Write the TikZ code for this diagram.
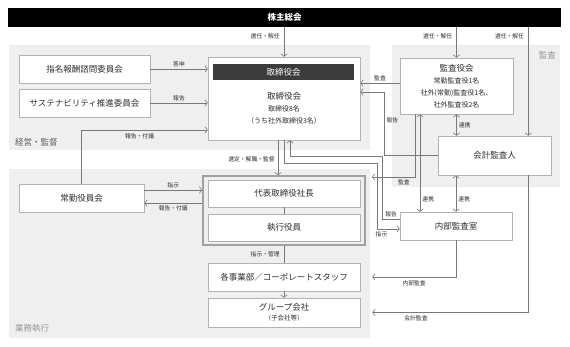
\documentclass[tikz,border=0pt]{standalone}
\usepackage{fontspec}
\setmainfont{Noto Sans CJK JP}
\usetikzlibrary{arrows.meta,calc}
\definecolor{regiongray}{RGB}{239,239,239}
\definecolor{boxline}{RGB}{178,178,178}
\definecolor{framecol}{RGB}{160,160,160}
\definecolor{connline}{RGB}{120,120,120}
\definecolor{txt}{RGB}{45,45,45}
\definecolor{hdr}{RGB}{60,60,60}
\definecolor{regtxtA}{RGB}{95,95,95}
\definecolor{regtxtB}{RGB}{150,150,150}
\newcommand\fmain{\fontsize{8.5pt}{10pt}\selectfont}
\newcommand\fsub{\fontsize{7pt}{12pt}\selectfont}
\newcommand\fsmall{\fontsize{6.5pt}{12pt}\selectfont}
\newcommand\flab{\fontsize{5.8pt}{7pt}\selectfont}
\begin{document}
\begin{tikzpicture}[x=1pt,y=-1pt,
  region/.style={fill=regiongray, draw=none, inner sep=0pt},
  regionlabel/.style={font=\fmain, inner sep=0pt},
  box/.style={draw=boxline, fill=white, line width=0.6pt, text=txt, font=\fmain, align=center, inner sep=0pt},
  lab/.style={font=\flab, text=txt, inner sep=1pt},
  conn/.style={draw=connline, line width=0.6pt},
  arr/.style={conn, -{Straight Barb[length=2.5pt,width=6.5pt]}},
  arrb/.style={conn, {Straight Barb[length=2.5pt,width=6.5pt]}-{Straight Barb[length=2.5pt,width=6.5pt]}}
]
\useasboundingbox (0,0) rectangle (570,347);
\fill[white] (0,0) rectangle (570,347);

% regions
\node[region, minimum width=361pt, minimum height=105pt] (regL) at (189.5,97.5) {};
\node[region, minimum width=168pt, minimum height=142pt] (regR) at (476,116) {};
\node[region, minimum width=361pt, minimum height=169pt] (regB) at (189.5,253.5) {};
\node[regionlabel, text=regtxtA, anchor=west] (labL) at (15,142) {経営・監督};
\node[regionlabel, text=regtxtB, anchor=west] (labB) at (15,328) {業務執行};
\node[regionlabel, text=regtxtB, anchor=east] (labR) at (556,55) {監査};

% top bar
\node[fill=black, text=white, font=\fmain\bfseries, minimum width=553pt, minimum height=19pt, inner sep=0pt] (top) at (284.5,17.5) {株主総会};

% left committees
\node[box, minimum width=131pt, minimum height=28pt] (nom) at (84.5,69) {指名報酬諮問委員会};
\node[box, minimum width=131pt, minimum height=28pt] (sus) at (84.5,103) {サステナビリティ推進委員会};
\node[box, minimum width=125pt, minimum height=28pt] (jokin) at (81.5,198) {常勤役員会};

% board
\node[box, minimum width=152pt, minimum height=83pt] (board) at (284,98.5) {};
\node[fill=hdr, text=white, font=\fmain, minimum width=141pt, minimum height=16pt, inner sep=0pt] (boardhdr) at (283.5,72) {取締役会};
\node[font=\fsub, text=txt, align=center, inner sep=0pt] (boardtxt) at (284,108) {{\fmain 取締役会}\\ 取締役8名\\ （うち社外取締役3名）};

% execution
\node[draw=framecol, line width=1.5pt, minimum width=162pt, minimum height=69pt, inner sep=0pt] (execframe) at (284,210.5) {};
\node[box, minimum width=152pt, minimum height=27pt] (ceo) at (284,193.5) {代表取締役社長};
\node[box, minimum width=152pt, minimum height=27pt] (officers) at (284,227.5) {執行役員};
\node[box, minimum width=152pt, minimum height=28pt] (div) at (284,277) {各事業部／コーポレートスタッフ};
\node[box, minimum width=152pt, minimum height=29pt] (grp) at (284,312.5) {グループ会社\\{\fsmall （子会社等）}};

% audit
\node[box, font=\fsub, minimum width=113pt, minimum height=56pt] (kansayaku) at (456.5,86) {{\fmain 監査役会}\\ 常勤監査役1名\\ 社外(常勤)監査役1名、\\ 社外監査役2名};
\node[box, minimum width=113pt, minimum height=39pt] (auditor) at (494.5,155.5) {会計監査人};
\node[box, minimum width=112pt, minimum height=28pt] (internal) at (456,226) {内部監査室};

% shareholders' meeting
\draw[arr] (board.north |- top.south) -- node[lab, pos=0.3, left=3pt]{選任・解任} (board.north);
\draw[arr] (kansayaku.north |- top.south) -- node[lab, pos=0.3, left=3pt]{選任・解任} (kansayaku.north);
\coordinate (audtop) at ($(auditor.north east)+(-23,0)$);
\draw[arr] (audtop |- top.south) -- node[lab, pos=0.083, left=3pt]{選任・解任} (audtop);

% committees to board
\draw[arr] (nom.east) -- node[lab, above=1pt]{答申} (nom.east -| board.west);
\draw[arr] (sus.east) -- node[lab, above=1pt]{報告} (sus.east -| board.west);

% jokin
\coordinate (jb) at ($(board.west)+(0,31.5)$);
\draw[arr] (jokin.north) |- node[lab, pos=0.73, below=2pt]{報告・付議} (jb);
\coordinate (j1) at ($(jokin.east)+(0,-8)$);
\draw[arr] (j1) -- node[lab, above=1pt]{指示} (j1 -| execframe.west);
\coordinate (j2) at ($(jokin.east)+(0,5)$);
\draw[arr] (j2 -| execframe.west) -- node[lab, below=1pt]{報告・付議} (j2);

% board to execution
\coordinate (b1) at ($(board.south)+(-6,0)$);
\draw[arr] (b1) -- node[lab, pos=0.55, left=2pt]{選定・解職・監督} (b1 |- execframe.north);
\draw[conn] (ceo.south) -- (officers.north);
\draw[conn] (execframe.south) -- node[lab, left=3pt]{指示・管理} (div.north);
\draw[arr] (div.south) -- (grp.north);

% audit connectors
\coordinate (k1) at ($(kansayaku.west)+(0,-3)$);
\draw[arr] (k1) -- node[lab, above=1pt]{監査} (k1 -| board.east);
\coordinate (bk) at ($(board.east)+(0,-6.5)$);
\draw[arr] (auditor.west) -- ++(-53,0) |- node[lab, pos=0.28, right=0.5pt]{報告} (bk);
\coordinate (k2) at ($(kansayaku.south)+(-41.5,0)$);
\coordinate (k2end) at (372,177);
\draw[arr] (k2) |- node[lab, pos=0.63, below=1pt]{監査} (k2end);
\coordinate (k3) at ($(kansayaku.south)+(-36.5,0)$);
\draw[arrb] (k3) -- node[lab, pos=0.87, right=1pt]{連携} (k3 |- internal.north);
\draw[arrb] (kansayaku.south) -- node[lab, right=1pt]{連携} (kansayaku.south |- auditor.north);
\draw[arrb] (internal.north) -- node[lab, pos=0.35, right=1pt]{連携} (internal.north |- auditor.south);

\coordinate (ia) at ($(div.east)+(12,0)$);
\draw[arr] (internal.south) |- node[lab, pos=0.75, below=2pt]{内部監査} (ia);
\coordinate (aa) at ($(grp.east)+(12,0)$);
\coordinate (a4) at ($(auditor.south east)+(-23,0)$);
\draw[arr] (a4) |- node[lab, pos=0.86, below=2pt]{会計監査} (aa);

% board <-> internal audit
\coordinate (ir) at ($(internal.west)+(0,-7)$);
\coordinate (br1) at ($(board.south)+(6,16)$);
\coordinate (br2) at ($(board.south)+(6,0)$);
\draw[arr] (ir) -- node[lab, above=0.5pt]{報告} ++(-17,0) |- (br1) -- (br2);
\coordinate (bi1) at ($(board.south)+(93,23)$);
\coordinate (bi2) at ($(internal.west)+(0,3)$);
\draw[arr] (board.south) |- (bi1) |- node[lab, pos=0.6, below=1pt]{指示} (bi2);
\end{tikzpicture}
\end{document}
